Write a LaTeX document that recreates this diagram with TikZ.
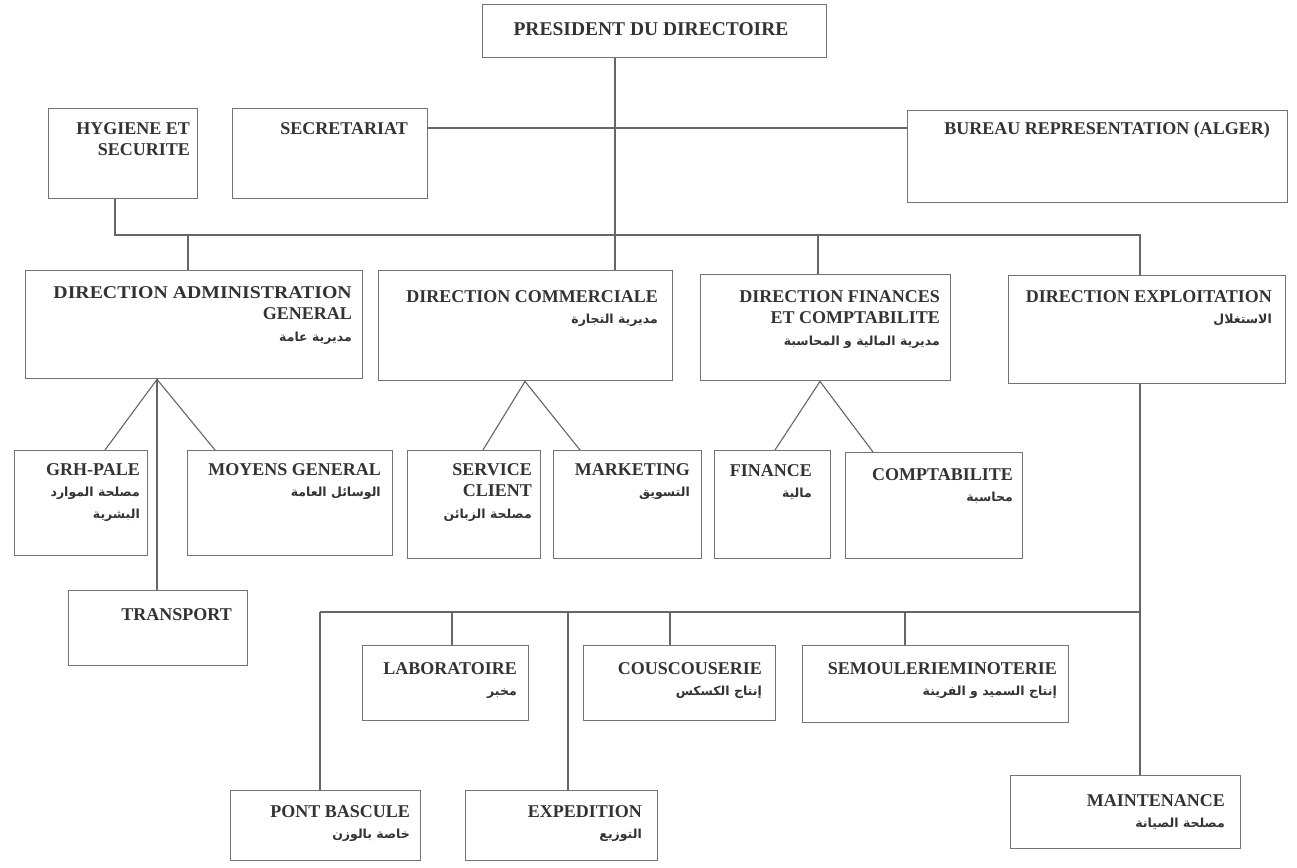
\documentclass[tikz,border=0pt]{standalone}
\usepackage{fontspec}
\setmainfont{Liberation Serif}
\newfontfamily\arabicfont[Script=Arabic]{DejaVu Sans}
\TeXXeTstate=1
\newcommand{\artx}[1]{{\arabicfont\fontsize{12.5}{21.5}\selectfont\beginR #1\endR}}
\tikzset{
  box/.style={draw=black!55, line width=1.4pt, anchor=north west, inner sep=0pt},
  lbl/.style={anchor=north east, inner sep=0pt, align=right, text=black!80,
    font=\bfseries\fontsize{18}{21.5}\selectfont},
  conn/.style={draw=black!60, line width=1.1pt}
}
\begin{document}
\begin{tikzpicture}[x=1pt,y=-1pt]
\fill[white] (0,0) rectangle (1297,867);
\useasboundingbox (0,0) rectangle (1297,867);

% boxes
\node[box, minimum width=344, minimum height=53] (pres) at (482,4) {};
\node[box, minimum width=149, minimum height=90] (hyg) at (48,108) {};
\node[box, minimum width=195, minimum height=90] (sec) at (232,108) {};
\node[box, minimum width=380, minimum height=92] (bur) at (907,110) {};
\node[box, minimum width=337, minimum height=108] (dag) at (25,270) {};
\node[box, minimum width=294, minimum height=110] (dc) at (378,270) {};
\node[box, minimum width=250, minimum height=106] (dfc) at (700,274) {};
\node[box, minimum width=277, minimum height=108] (de) at (1008,275) {};
\node[box, minimum width=133, minimum height=105] (grh) at (14,450) {};
\node[box, minimum width=205, minimum height=105] (moy) at (187,450) {};
\node[box, minimum width=179, minimum height=75] (tra) at (68,590) {};
\node[box, minimum width=133, minimum height=108] (sc) at (407,450) {};
\node[box, minimum width=148, minimum height=108] (mkt) at (553,450) {};
\node[box, minimum width=116, minimum height=108] (fin) at (714,450) {};
\node[box, minimum width=177, minimum height=106] (cpt) at (845,452) {};
\node[box, minimum width=166, minimum height=75] (lab) at (362,645) {};
\node[box, minimum width=192, minimum height=75] (cou) at (583,645) {};
\node[box, minimum width=266, minimum height=77] (sem) at (802,645) {};
\node[box, minimum width=190, minimum height=70] (pon) at (230,790) {};
\node[box, minimum width=192, minimum height=70] (exp) at (465,790) {};
\node[box, minimum width=230, minimum height=73] (mai) at (1010,775) {};

% labels
\node[lbl, anchor=center, font=\bfseries\fontsize{19.5}{22}\selectfont] (presT) at (651,29) {PRESIDENT DU DIRECTOIRE};
\node[lbl] (hygT) at (190,122) {HYGIENE ET\\SECURITE};
\node[lbl] (secT) at (408,122) {SECRETARIAT};
\node[lbl] (burT) at (1270,122) {BUREAU REPRESENTATION (ALGER)};
\node[lbl] (dagT) at (352,286) {\scalebox{1.1}[1]{DIRECTION ADMINISTRATION}\\GENERAL\\\artx{مديرية عامة}};
\node[lbl] (dcT) at (658,290) {DIRECTION COMMERCIALE\\\artx{مديرية التجارة}};
\node[lbl] (dfcT) at (940,290) {DIRECTION FINANCES\\ET COMPTABILITE\\\artx{مديرية المالية و المحاسبة}};
\node[lbl] (deT) at (1272,290) {DIRECTION EXPLOITATION\\\artx{الاستغلال}};
\node[lbl] (grhT) at (140,463) {GRH-PALE\\\artx{مصلحة الموارد}\\\artx{البشرية}};
\node[lbl] (moyT) at (381,463) {MOYENS GENERAL\\\artx{الوسائل العامة}};
\node[lbl] (traT) at (232,608) {TRANSPORT};
\node[lbl] (scT) at (532,463) {SERVICE\\CLIENT\\\artx{مصلحة الزبائن}};
\node[lbl] (mktT) at (690,463) {MARKETING\\\artx{التسويق}};
\node[lbl] (finT) at (812,464) {FINANCE\\\artx{مالية}};
\node[lbl] (cptT) at (1013,468) {COMPTABILITE\\\artx{محاسبة}};
\node[lbl] (labT) at (517,662) {LABORATOIRE\\\artx{مخبر}};
\node[lbl] (couT) at (762,662) {COUSCOUSERIE\\\artx{إنتاج الكسكس}};
\node[lbl] (semT) at (1057,662) {SEMOULERIEMINOTERIE\\\artx{إنتاج السميد و الفرينة}};
\node[lbl] (ponT) at (410,805) {PONT BASCULE\\\artx{خاصة بالوزن}};
\node[lbl] (expT) at (642,805) {EXPEDITION\\\artx{التوزيع}};
\node[lbl] (maiT) at (1225,794) {MAINTENANCE\\\artx{مصلحة الصيانة}};

% helper coordinates
\coordinate (xP) at (615,235);
\coordinate (busL) at (115,235);
\coordinate (busR) at (1140,235);
\coordinate (j1) at (188,235);
\coordinate (j3) at (818,235);
\coordinate (sb) at (427,128);
\coordinate (fA) at (157,378);
\coordinate (fA1) at (105,450);
\coordinate (fA2) at (215,450);
\coordinate (fB) at (525,380);
\coordinate (fB1) at (483,450);
\coordinate (fB2) at (580,450);
\coordinate (fC) at (820,380);
\coordinate (fC1) at (775,450);
\coordinate (fC2) at (873,450);
\coordinate (xE) at (1140,612);
\coordinate (b2L) at (320,612);
\coordinate (k1) at (452,612);
\coordinate (k2) at (568,612);
\coordinate (k3) at (670,612);
\coordinate (k4) at (905,612);

% connectors
\draw[conn] (pres.south -| xP) -- (dc.north -| xP);
\draw[conn] (sec.east |- sb) -- (bur.west |- sb);
\draw[conn] (hyg.south -| busL) -- (busL) -- (busR) -- (de.north -| busR);
\draw[conn] (j1) -- (dag.north -| j1);
\draw[conn] (j3) -- (dfc.north -| j3);
\draw[conn] (dag.south -| fA) -- (grh.north -| fA1);
\draw[conn] (dag.south -| fA) -- (moy.north -| fA2);
\draw[conn] (dag.south -| fA) -- (tra.north -| fA);
\draw[conn] (dc.south -| fB) -- (sc.north -| fB1);
\draw[conn] (dc.south -| fB) -- (mkt.north -| fB2);
\draw[conn] (dfc.south -| fC) -- (fin.north -| fC1);
\draw[conn] (dfc.south -| fC) -- (cpt.north -| fC2);
\draw[conn] (de.south -| xE) -- (mai.north -| xE);
\draw[conn] (b2L) -- (xE);
\draw[conn] (b2L) -- (pon.north -| b2L);
\draw[conn] (k1) -- (lab.north -| k1);
\draw[conn] (k2) -- (exp.north -| k2);
\draw[conn] (k3) -- (cou.north -| k3);
\draw[conn] (k4) -- (sem.north -| k4);
\end{tikzpicture}
\end{document}
